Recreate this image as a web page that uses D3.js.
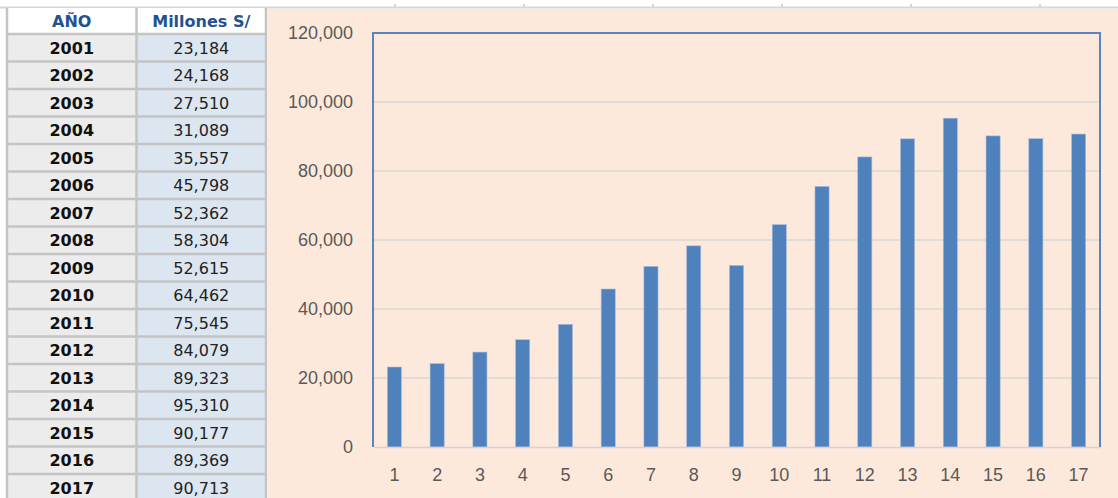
<!DOCTYPE html>
<html lang="es">
<head>
<meta charset="utf-8">
<title>Millones S/ por año</title>
<script src="https://d3js.org/d3.v7.min.js"></script>
<style>
  body { margin: 0; background: #fff; }
  svg { display: block; }
</style>
</head>
<body>
<div id="chart"></div>
<script>
const years = [2001, 2002, 2003, 2004, 2005, 2006, 2007, 2008, 2009, 2010, 2011, 2012, 2013, 2014, 2015, 2016, 2017];
const values = [23184, 24168, 27510, 31089, 35557, 45798, 52362, 58304, 52615, 64462, 75545, 84079, 89323, 95310, 90177, 89369, 90713];
const categories = d3.range(1, years.length + 1);   // 1..17 on the x axis
const yTicks = [0, 20000, 40000, 60000, 80000, 100000, 120000];
const headers = ["AÑO", "Millones S/"];

const W = 1118, H = 498;
const svg = d3.select("#chart").append("svg")
  .attr("width", W).attr("height", H);

svg.append("rect").attr("width", W).attr("height", H).attr("fill", "#fff");

// spreadsheet strip at the top
svg.append("line")
  .attr("x1", 0).attr("x2", W).attr("y1", 7.5).attr("y2", 7.5)
  .attr("stroke", "#d6d6d6").attr("stroke-width", 2);
[395, 524, 653, 782, 911, 1040].forEach(x => {
  svg.append("line").attr("x1", x).attr("x2", x).attr("y1", 4).attr("y2", 7)
    .attr("stroke", "#d6d6d6").attr("stroke-width", 2);
});

// ---- table ----
const colX = [7, 136.5, 266];
const headTop = 8, headH = 26, rowH = 27.5;
const rowTop = headTop + headH;
const fmt = d3.format(",");
const tableFont = "'DejaVu Sans', Verdana, sans-serif";

const table = svg.append("g");
table.append("rect").attr("x", colX[0]).attr("y", headTop)
  .attr("width", colX[2] - colX[0]).attr("height", headH).attr("fill", "#fff");

years.forEach((yr, i) => {
  const y = rowTop + i * rowH;
  table.append("rect").attr("x", colX[0]).attr("y", y)
    .attr("width", colX[1] - colX[0]).attr("height", rowH).attr("fill", "#ececec");
  table.append("rect").attr("x", colX[1]).attr("y", y)
    .attr("width", colX[2] - colX[1]).attr("height", rowH).attr("fill", "#dce6f1");
  table.append("text")
    .attr("x", (colX[0] + colX[1]) / 2).attr("y", y + rowH / 2 + 1.5)
    .attr("text-anchor", "middle").attr("dominant-baseline", "middle")
    .style("font", `bold 16px ${tableFont}`)
    .attr("fill", "#111")
    .text(yr);
  table.append("text")
    .attr("x", (colX[1] + colX[2]) / 2).attr("y", y + rowH / 2 + 1.5)
    .attr("text-anchor", "middle").attr("dominant-baseline", "middle")
    .style("font", `16px ${tableFont}`)
    .attr("fill", "#222")
    .text(fmt(values[i]));
});

headers.forEach((h, i) => {
  table.append("text")
    .attr("x", (colX[i] + colX[i + 1]) / 2).attr("y", headTop + headH / 2 + 1.5)
    .attr("text-anchor", "middle").attr("dominant-baseline", "middle")
    .style("font", `bold 16px ${tableFont}`)
    .attr("fill", "#24528f")
    .text(h);
});

// grid lines of the table
colX.forEach(x => {
  table.append("line").attr("x1", x).attr("x2", x).attr("y1", headTop).attr("y2", H)
    .attr("stroke", "#c4c4c4").attr("stroke-width", 2.5);
});
d3.range(years.length + 1).forEach(i => {
  const y = rowTop + i * rowH;
  table.append("line").attr("x1", colX[0]).attr("x2", colX[2]).attr("y1", y).attr("y2", y)
    .attr("stroke", "#c4c4c4").attr("stroke-width", 2.5);
});

// ---- chart ----
svg.append("rect").attr("x", 268).attr("y", 9)
  .attr("width", W - 268).attr("height", H - 9).attr("fill", "#fde9db");

const plot = { left: 373, right: 1100, top: 33, bottom: 447 };

const x = d3.scaleBand()
  .domain(categories)
  .range([plot.left, plot.right])
  .paddingInner(0.67).paddingOuter(0.335);

const y = d3.scaleLinear()
  .domain([0, 120000])
  .range([plot.bottom, plot.top]);

// gridlines
svg.append("g")
  .selectAll("line")
  .data(yTicks.filter(d => d > 0 && d < 120000))
  .join("line")
  .attr("x1", plot.left).attr("x2", plot.right)
  .attr("y1", d => y(d)).attr("y2", d => y(d))
  .attr("stroke", "#e2dcd6").attr("stroke-width", 2);

// y axis labels
const yAxis = svg.append("g")
  .attr("transform", `translate(${plot.left},0)`)
  .call(d3.axisLeft(y).tickValues(yTicks).tickFormat(fmt).tickSize(0).tickPadding(20));
yAxis.select(".domain").remove();
yAxis.selectAll("text")
  .style("font", "18px 'Liberation Sans', Arial, sans-serif")
  .attr("fill", "#595959");

// bars
svg.append("g")
  .selectAll("rect")
  .data(values)
  .join("rect")
  .attr("x", (d, i) => x(categories[i]))
  .attr("width", x.bandwidth())
  .attr("y", d => y(d))
  .attr("height", d => y(0) - y(d))
  .attr("fill", "#4f81bd")
  .attr("stroke", "#a7bddb").attr("stroke-width", 0.6);

// x axis
const xAxis = svg.append("g")
  .attr("transform", `translate(0,${plot.bottom})`)
  .call(d3.axisBottom(x).tickSize(0).tickPadding(21));
xAxis.select(".domain").attr("stroke", "#c9d4e4").attr("stroke-width", 1.5);
xAxis.selectAll("text")
  .style("font", "18px 'Liberation Sans', Arial, sans-serif")
  .attr("fill", "#595959");

// plot border: left, top, right in blue
svg.append("path")
  .attr("d", `M${plot.left},${plot.bottom}V${plot.top}H${plot.right}V${plot.bottom}`)
  .attr("fill", "none")
  .attr("stroke", "#5b84bd").attr("stroke-width", 2);
</script>
</body>
</html>
